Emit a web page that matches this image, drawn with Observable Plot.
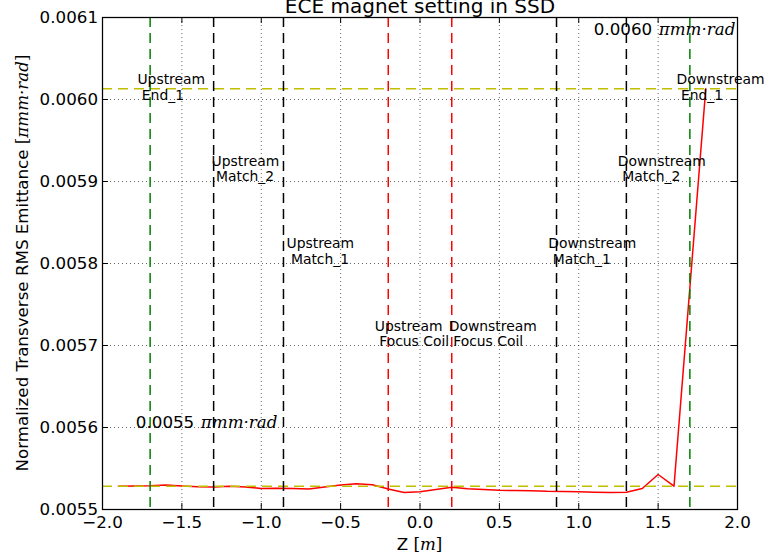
<!DOCTYPE html>
<html><head><meta charset="utf-8">
<script src="https://cdn.jsdelivr.net/npm/d3@7"></script>
<script src="https://cdn.jsdelivr.net/npm/@observablehq/plot@0.6"></script>
<style>body{margin:0;background:#fff}</style>
</head><body><div id="chart"></div>
<script>
// ---- data ----
const titleText = "ECE magnet setting in SSD";
const zPos = [-1.9,-1.8,-1.7,-1.6,-1.5,-1.4,-1.3,-1.2,-1.1,-1.0,-0.9,-0.8,-0.7,-0.6,-0.5,-0.4,-0.3,-0.2,-0.1,0.0,
              0.1,0.2,0.3,0.4,0.5,0.6,0.7,0.8,0.9,1.0,1.1,1.2,1.3,1.4,1.5,1.6,1.8];
const emittance = [0.0055284,0.0055287,0.0055290,0.0055299,0.0055287,0.0055277,0.0055274,0.0055284,0.0055274,0.0055256,
                   0.0055260,0.0055256,0.0055250,0.0055274,0.0055299,0.0055313,0.0055301,0.0055250,0.0055207,0.0055217,
                   0.0055244,0.0055272,0.0055252,0.0055244,0.0055234,0.0055232,0.0055229,0.0055222,0.0055220,0.0055216,
                   0.0055210,0.0055207,0.0055211,0.0055256,0.0055427,0.0055284,0.0060130];
const magnetZ = [-1.7,-1.3,-0.86,-0.2,0.2,0.86,1.3,1.7];
const magnetKind = ["End","Match","Match","Focus","Focus","Match","Match","End"];
const magnetLabels = ["Upstream\n\u00a0End_1","Upstream\n\u00a0Match_2","Upstream\n\u00a0Match_1","Upstream\n\u00a0Focus Coil",
                      "Downstream\n\u00a0Focus Coil","Downstream\n\u00a0Match_1","Downstream\n\u00a0Match_2","Downstream\n\u00a0End_1"];
const labelZ = [-1.78,-1.313,-0.841,-0.285,0.181,0.808,1.246,1.616];
const labelY = [0.006015,0.0059155,0.0058152,0.0057146,0.0057146,0.0058152,0.0059155,0.006015];
const annotZ = [-1.79,1.095];
const annotY = [0.0056,0.006079];
const xTicks = [-2,-1.5,-1,-0.5,0,0.5,1,1.5,2];
const yTicks = [0.0055,0.0056,0.0057,0.0058,0.0059,0.0060,0.0061];
const unitText = "\u03c0mm\u00b7rad";

// ---- derived ----
const refLines = [emittance[0], emittance[emittance.length - 1]];
const kindColor = {End: "#008000", Match: "#000000", Focus: "#ff0000"};
const series = zPos.map((z, i) => ({z, e: emittance[i]}));

const W = 764, H = 557, mL = 102, mR = 27, mT = 17, mB = 48;
const frameW = W - mL - mR, frameH = H - mT - mB;
const sans = "DejaVu Sans, sans-serif";
const serif = "DejaVu Serif, serif";

const chart = Plot.plot({
  width: W, height: H,
  marginLeft: mL, marginRight: mR, marginTop: mT, marginBottom: mB,
  style: {fontFamily: sans, fontSize: "16.7px", background: "#fff", color: "#000", overflow: "visible"},
  x: {domain: [-2, 2]},
  y: {domain: [0.0055, 0.0061]},
  color: {type: "identity"},
  marks: [
    Plot.ruleX(xTicks, {x: d => d, stroke: "#000", strokeWidth: 1, strokeOpacity: 0.6, strokeDasharray: "1,3"}),
    Plot.ruleY(yTicks, {y: d => d, stroke: "#000", strokeWidth: 1, strokeOpacity: 0.6, strokeDasharray: "1,3"}),
    Plot.line(series, {x: "z", y: "e", stroke: "#ff0000", strokeWidth: 1.5}),
    Plot.ruleY(refLines, {y: d => d, stroke: "#bfbf00", strokeWidth: 1.5, strokeDasharray: "10,6"}),
    Plot.ruleX(magnetZ, {x: d => d, stroke: (d, i) => kindColor[magnetKind[i]], strokeWidth: 1.5, strokeDasharray: "10,6"}),
    Plot.tickX(xTicks, {x: d => d, insetTop: frameH - 6, stroke: "#000"}),
    Plot.tickX(xTicks, {x: d => d, insetBottom: frameH - 6, stroke: "#000"}),
    Plot.tickY(yTicks, {y: d => d, insetRight: frameW - 6, stroke: "#000"}),
    Plot.tickY(yTicks, {y: d => d, insetLeft: frameW - 6, stroke: "#000"}),
    Plot.frame({stroke: "#000", strokeWidth: 1.25}),
    Plot.axisX({ticks: xTicks, tickSize: 0, tickPadding: 7, tickFormat: d3.format(".1f"), fontSize: 16.7, label: null}),
    Plot.axisY({ticks: yTicks, tickSize: 0, tickPadding: 4.5, tickFormat: d3.format(".4f"), fontSize: 16.7, label: null}),
    Plot.text(magnetLabels, {x: (d, i) => labelZ[i], y: (d, i) => labelY[i], text: d => d,
      textAnchor: "start", lineAnchor: "middle", lineHeight: 1.1, fontSize: 13.9, fill: "#000"}),
    Plot.text(refLines, {x: (d, i) => annotZ[i], y: (d, i) => annotY[i], text: d => d3.format(".4f")(d),
      textAnchor: "start", lineAnchor: "bottom", fontSize: 16.7, fill: "#000"}),
    Plot.text(refLines, {x: (d, i) => annotZ[i], y: (d, i) => annotY[i], text: () => unitText, dx: 65,
      textAnchor: "start", lineAnchor: "bottom", fontSize: 16.7, fontFamily: serif, fontStyle: "italic", fill: "#000"}),
    Plot.text([titleText], {frameAnchor: "top", dy: -5, lineAnchor: "bottom", fontSize: 20, fill: "#000"})
  ]
});

const svg = d3.select(chart);
const yl = svg.append("text")
  .attr("transform", `translate(28,${mT + frameH / 2}) rotate(-90)`)
  .attr("text-anchor", "middle").attr("font-family", sans).attr("font-size", 16.7).attr("fill", "#000");
yl.append("tspan").text("Normalized Transverse RMS Emittance ");
yl.append("tspan").attr("font-family", serif).text("[");
yl.append("tspan").attr("font-family", serif).attr("font-style", "italic").text(unitText);
yl.append("tspan").attr("font-family", serif).text("]");

const xl = svg.append("text")
  .attr("transform", `translate(${mL + frameW / 2},550)`)
  .attr("text-anchor", "middle").attr("font-family", sans).attr("font-size", 16.7).attr("fill", "#000");
xl.append("tspan").text("Z ");
xl.append("tspan").attr("font-family", serif).text("[");
xl.append("tspan").attr("font-family", serif).attr("font-style", "italic").text("m");
xl.append("tspan").attr("font-family", serif).text("]");

document.getElementById("chart").appendChild(chart);
</script>
</body></html>
